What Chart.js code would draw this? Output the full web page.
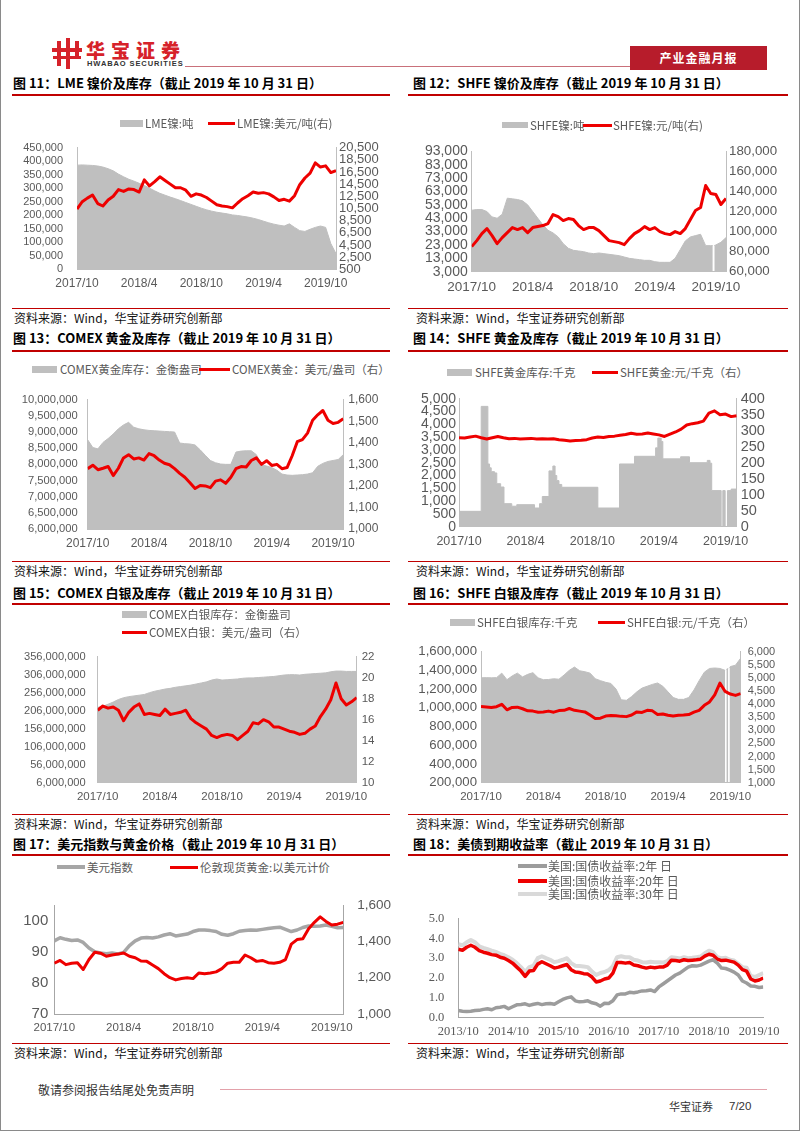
<!DOCTYPE html>
<html lang="zh-CN">
<head>
<meta charset="utf-8">
<title>产业金融月报 7/20</title>
<script src="https://cdn.jsdelivr.net/npm/chart.js@4.4.1/dist/chart.umd.min.js"></script>
<style>
  html, body { margin: 0; padding: 0; background: #fff; }
  body { position: relative; width: 802px; height: 1133px; overflow: hidden; font-family: "Noto Sans CJK SC", "Liberation Sans", sans-serif; }
  .abs { position: absolute; white-space: nowrap; }
  .frame { position: absolute; left: 0; top: -2px; width: 798px; height: 1132px; border: 1px solid #8a8a8a; border-top: none; }
  .title { font-size: 13px; font-weight: 700; line-height: 14px; color: #000; }
  .rule { height: 2px; background: #c00000; }
  .thin { height: 1px; background: #c00000; }
  .src { font-size: 12px; line-height: 14px; color: #111; }
  .leg { line-height: 14px; color: #595959; }
  .ico { position: absolute; background: #d6222a; }
  canvas { position: absolute; }
</style>
</head>
<body>
<div class="frame"></div>

<!-- header -->
<div class="ico" style="left:52px;top:48px;width:30px;height:4px"></div>
<div class="ico" style="left:57px;top:41px;width:4px;height:25px"></div>
<div class="ico" style="left:66px;top:38px;width:4px;height:31px"></div>
<div class="ico" style="left:75px;top:41px;width:4px;height:18px"></div>
<div class="ico" style="left:53px;top:56px;width:28px;height:3px"></div>
<div class="abs" style="left:86px;top:39px;font-size:19px;line-height:22px;font-weight:900;color:#d6222a;letter-spacing:6px">华宝证券</div>
<div class="abs" style="left:87px;top:60px;font-family:'Liberation Sans';font-size:7.5px;line-height:8px;font-weight:700;color:#333;letter-spacing:0.9px">HWABAO SECURITIES</div>
<div class="abs" style="left:185px;top:66px;width:445px;height:1px;background:#c9707a"></div>
<div class="abs" style="left:630px;top:46px;width:137px;height:24px;background:#b71c2b;color:#fff;font-size:12px;font-weight:700;line-height:24px;text-align:center;letter-spacing:1px">产业金融月报</div>

<!-- titles -->
<div class="abs title" style="left:13px;top:76px">图 11：LME 镍价及库存（截止 2019 年 10 月 31 日）</div>
<div class="abs title" style="left:413px;top:76px">图 12：SHFE 镍价及库存（截止 2019 年 10 月 31 日）</div>
<div class="abs rule" style="left:12px;top:94px;width:378px"></div>
<div class="abs rule" style="left:408px;top:94px;width:380px"></div>

<div class="abs title" style="left:13px;top:331px">图 13：COMEX 黄金及库存（截止 2019 年 10 月 31 日）</div>
<div class="abs title" style="left:413px;top:331px">图 14：SHFE 黄金及库存（截止 2019 年 10 月 31 日）</div>
<div class="abs rule" style="left:12px;top:350px;width:378px"></div>
<div class="abs rule" style="left:408px;top:350px;width:380px"></div>

<div class="abs title" style="left:13px;top:586px">图 15：COMEX 白银及库存（截止 2019 年 10 月 31 日）</div>
<div class="abs title" style="left:413px;top:586px">图 16：SHFE 白银及库存（截止 2019 年 10 月 31 日）</div>
<div class="abs rule" style="left:12px;top:603px;width:378px"></div>
<div class="abs rule" style="left:408px;top:603px;width:380px"></div>

<div class="abs title" style="left:13px;top:837px">图 17：美元指数与黄金价格（截止 2019 年 10 月 31 日）</div>
<div class="abs title" style="left:413px;top:837px">图 18：美债到期收益率（截止 2019 年 10 月 31 日）</div>
<div class="abs rule" style="left:12px;top:854px;width:378px"></div>
<div class="abs rule" style="left:408px;top:854px;width:380px"></div>

<!-- source rows -->
<div class="abs thin" style="left:12px;top:308px;width:378px"></div>
<div class="abs thin" style="left:408px;top:308px;width:380px"></div>
<div class="abs src" style="left:14px;top:311px">资料来源：Wind，华宝证券研究创新部</div>
<div class="abs src" style="left:416px;top:311px">资料来源：Wind，华宝证券研究创新部</div>

<div class="abs thin" style="left:12px;top:561px;width:378px"></div>
<div class="abs thin" style="left:408px;top:561px;width:380px"></div>
<div class="abs src" style="left:14px;top:564px">资料来源：Wind，华宝证券研究创新部</div>
<div class="abs src" style="left:416px;top:564px">资料来源：Wind，华宝证券研究创新部</div>

<div class="abs thin" style="left:12px;top:814px;width:378px"></div>
<div class="abs thin" style="left:408px;top:814px;width:380px"></div>
<div class="abs src" style="left:14px;top:817px">资料来源：Wind，华宝证券研究创新部</div>
<div class="abs src" style="left:416px;top:817px">资料来源：Wind，华宝证券研究创新部</div>

<div class="abs thin" style="left:12px;top:1043px;width:378px"></div>
<div class="abs thin" style="left:408px;top:1043px;width:380px"></div>
<div class="abs src" style="left:14px;top:1046px">资料来源：Wind，华宝证券研究创新部</div>
<div class="abs src" style="left:416px;top:1046px">资料来源：Wind，华宝证券研究创新部</div>

<!-- footer -->
<div class="abs" style="left:38px;top:1083px;font-size:12px;line-height:14px;color:#333">敬请参阅报告结尾处免责声明</div>
<div class="abs" style="left:220px;top:1089px;width:547px;height:1px;background:#e3a1aa"></div>
<div class="abs" style="left:669px;top:1099px;font-size:11px;line-height:14px;color:#333">华宝证券</div>
<div class="abs" style="left:729px;top:1099px;font-family:'Liberation Sans';font-size:11.5px;line-height:14px;color:#333">7/20</div>

<script>
// x positions: months after 2017/10 (two-year charts) and after 2013/10 (yield chart)
const months2y = [0,0.5,1,1.5,2,2.5,3,3.5,4,4.5,5,5.5,6,6.5,7,7.5,8,8.5,9,9.5,10,10.5,11,11.5,12,12.5,
  13,13.5,14,14.5,15,15.5,16,16.5,17,17.5,18,18.5,19,19.5,20,20.5,21,21.5,22,22.5,23,23.5,24,24.5,25];
const monthsYield = [0,1,2,3,4,5,6,7,8,9,10,11,12,13,14,15,16,17,18,19,20,21,22,23,24,25,26,27,28,29,
  30,31,32,33,34,35,36,37,38,39,40,41,42,43,44,45,46,47,48,49,50,51,52,53,54,55,56,57,58,59,
  60,61,62,63,64,65,66,67,68,69,70,71,72,73];
const tickLabels2y = ['2017/10', '2018/4', '2018/10', '2019/4', '2019/10'];
const tickLabels6y = ['2013/10', '2014/10', '2015/10', '2016/10', '2017/10', '2018/10', '2019/10'];

// 图11 LME 镍
const lmeNiStock = [385000,386000,385000,384000,382000,378000,372000,364000,352000,342000,
  333000,326000,318000,310000,300000,290000,281000,274000,267000,261000,
  254000,247000,240000,233000,226000,220000,215000,211000,208000,205000,
  201000,199000,196000,193000,189000,184000,178000,172000,167000,163000,
  160000,168000,155000,143000,140000,148000,155000,160000,155000,95000,58000];
const lmeNiPrice = [10400,11600,12200,12700,11300,10900,11900,12500,13600,13300,
  13700,13600,13200,15200,14200,14900,15700,15100,14500,13900,
  13900,13500,12500,12900,12700,12300,11700,11100,10900,10800,
  10600,11400,12100,12600,13200,13000,13100,12900,12400,11800,
  12000,11700,12600,14400,15500,16300,18000,17300,17500,16400,16700];

// 图12 SHFE 镍
const shfeNiStockX = [0,0.5,1,1.5,2,2.5,3,3.5,4,4.5,5,5.5,6,6.5,7,7.5,8,8.5,9,9.5,10,10.5,11,11.5,12,12.5,
  13,13.5,14,14.5,15,15.5,16,16.5,17,17.5,18,18.5,19,19.5,20,20.5,21,21.5,22,22.5,23,23.5,
  23.7,23.75,23.85,24,24.5,25];
const shfeNiStock = [49000,49500,49500,48000,44000,43000,46000,58000,57500,57000,
  56000,53000,48000,43000,38000,34000,32000,29000,24000,20500,
  19000,18500,18000,17000,16500,17000,16500,16000,15500,15000,
  14000,13000,12500,12000,11500,11500,10500,10000,10000,10000,
  13000,19500,26000,29000,30000,31000,22500,22500,
  22500,null,22600,23000,25000,28500];
const shfeNiPrice = [85000,91000,98000,103000,96000,88000,94000,99000,104000,102000,
  104000,99000,104000,105000,106000,108000,117000,115000,111000,113000,
  112000,106000,102000,104000,104000,101000,96000,91000,90000,89000,
  87000,93000,98000,101000,105000,102000,104000,100000,98000,97000,
  100000,98000,103000,112000,121000,124000,146000,138000,137000,127000,133000];

// 图13 COMEX 黄金
const comexGoldStock = [8760000,8520000,8480000,8680000,8800000,8940000,9100000,9220000,9300000,9150000,
  9100000,9070000,9050000,9040000,9030000,9020000,9010000,9000000,8660000,8640000,
  8630000,8600000,8450000,8280000,8120000,8050000,8010000,8000000,8000000,8380000,
  8410000,8420000,8420000,8300000,7980000,7950000,7900000,7820000,7700000,7670000,
  7660000,7670000,7680000,7700000,7740000,7940000,8030000,8090000,8120000,8150000,8300000];
const comexGoldPrice = [1280,1296,1275,1282,1290,1248,1282,1330,1345,1325,
  1330,1320,1350,1340,1320,1305,1298,1280,1258,1240,
  1215,1188,1202,1200,1192,1222,1228,1212,1240,1280,
  1290,1288,1318,1330,1300,1317,1295,1300,1280,1285,
  1340,1405,1415,1445,1505,1530,1550,1505,1490,1495,1512];

// 图14 SHFE 黄金 (库存为阶梯变化)
const shfeGoldStockX = [0,2.0,2.6,2.75,2.9,3.2,3.4,3.75,4.05,4.75,
  5.2,6.8,7.25,7.5,8.1,8.45,8.65,8.8,9.0,9.25,
  12.5,14.45,15.8,17.7,17.9,18.2,18.35,19.95,20.75,22.35,
  22.6,22.75,23.6,23.75,23.96,24.17,24.5,25];
const shfeGoldStock = [600,4700,2450,2300,2150,2100,1680,1550,900,800,
  860,730,900,1180,2180,2370,2000,1800,1650,1540,
  730,2450,2750,3080,3460,3330,2650,2730,2500,2590,
  2480,1410,0,1410,0,1410,1470,1470];
const shfeGoldPrice = [278,277,280,283,278,274,278,282,278,275,
  276,274,275,276,274,275,274,275,272,270,
  268,269,270,272,277,280,279,282,283,286,
  288,292,289,290,293,290,287,282,289,296,
  305,318,322,325,330,355,362,350,352,344,347];

// 图15 COMEX 白银
const comexSilverStock = [215000000,218000000,224000000,230000000,237000000,242000000,245000000,247000000,249000000,251000000,
  256000000,260000000,263000000,266000000,268000000,271000000,273000000,275000000,277000000,280000000,
  283000000,286000000,291000000,294000000,291000000,292000000,293000000,294000000,296000000,297000000,
  297000000,298000000,299000000,300000000,301000000,303000000,305000000,306000000,306000000,305000000,
  307000000,308000000,309000000,310000000,311000000,314000000,316000000,316000000,315000000,315000000,315000000];
const comexSilverPrice = [16.9,17.3,17.1,17.2,16.9,15.9,16.7,17.2,17.5,16.5,
  16.6,16.5,16.4,17.0,16.5,16.6,16.7,16.9,16.1,15.7,
  15.4,15.1,14.5,14.3,14.5,14.6,14.5,14.1,14.5,14.9,
  15.7,15.6,16.0,15.8,15.3,15.3,15.1,14.9,14.8,14.6,
  14.7,15.1,15.4,16.3,17.0,17.9,19.5,18.0,17.4,17.7,18.1];

// 图16 SHFE 白银
const shfeSilverStockX = [0,0.5,1,1.5,2,2.5,3,3.5,4,4.5,5,5.5,6,6.5,7,7.5,8,8.5,9,9.5,10,10.5,11,11.5,12,12.5,
  13,13.5,14,14.5,15,15.5,16,16.5,17,17.5,18,18.5,19,19.5,20,20.5,21,21.5,22,22.5,23,23.5,
  23.55,23.62,23.8,23.85,23.92,24,24.5,25];
const shfeSilverStock = [1320000,1322000,1320000,1322000,1370000,1300000,1340000,1370000,1330000,1357000,
  1375000,1320000,1300000,1302000,1310000,1305000,1350000,1400000,1435000,1395000,
  1385000,1370000,1310000,1290000,1272000,1260000,1200000,1085000,1080000,1120000,
  1170000,1210000,1230000,1250000,1265000,1230000,1170000,1110000,1090000,1090000,
  1110000,1190000,1290000,1380000,1420000,1425000,1420000,1400000,
  null,1410000,1420000,null,1430000,1440000,1455000,1530000];
const shfeSilverPrice = [3910,3890,3870,3900,3990,3780,3870,3880,3820,3740,
  3730,3690,3700,3730,3690,3750,3760,3830,3760,3730,
  3700,3580,3450,3460,3540,3560,3555,3530,3520,3580,
  3700,3680,3760,3740,3600,3620,3570,3540,3570,3580,
  3600,3690,3760,3950,4080,4350,4800,4480,4380,4330,4400];

// 图17 美元指数与黄金
const usdIndex = [93.5,94.5,94.0,93.6,93.8,93.0,91.2,90.0,89.6,89.4,
  89.6,89.3,89.8,92.0,93.5,94.4,94.6,94.4,94.8,95.4,
  95.8,95.1,95.4,95.7,96.5,97.0,97.0,96.8,96.5,95.6,
  95.3,95.8,96.6,96.8,97.0,96.9,97.2,97.5,97.7,97.9,
  97.2,96.5,97.0,97.8,98.3,98.2,98.3,98.6,98.2,97.7,97.8];
const londonGold = [1280,1295,1272,1280,1282,1245,1300,1340,1335,1318,
  1325,1330,1336,1318,1310,1292,1290,1270,1250,1222,
  1200,1188,1196,1200,1195,1226,1222,1226,1232,1250,
  1280,1285,1285,1325,1310,1290,1295,1283,1280,1285,
  1300,1385,1410,1415,1470,1505,1535,1510,1490,1495,1505];

// 图18 美债收益率
const us2y = [0.36,0.33,0.31,0.33,0.36,0.37,0.42,0.45,0.40,0.50,
  0.53,0.57,0.45,0.55,0.65,0.67,0.70,0.62,0.68,0.72,
  0.66,0.70,0.72,0.68,0.80,0.92,1.00,1.05,0.85,0.80,
  0.82,0.85,0.75,0.70,0.58,0.73,0.72,0.85,1.15,1.20,
  1.20,1.28,1.26,1.30,1.35,1.36,1.40,1.32,1.55,1.70,
  1.85,2.00,2.15,2.25,2.40,2.55,2.62,2.60,2.65,2.75,
  2.85,2.92,2.75,2.50,2.48,2.40,2.30,2.15,1.85,1.75,
  1.60,1.58,1.52,1.55];
const us20y = [3.45,3.40,3.55,3.65,3.55,3.38,3.30,3.25,3.18,3.15,
  3.05,3.00,2.88,2.75,2.55,2.35,2.08,2.35,2.38,2.70,
  2.82,2.72,2.62,2.50,2.55,2.62,2.68,2.42,2.30,2.28,
  2.22,2.20,2.05,1.80,1.85,1.95,2.00,2.25,2.78,2.78,
  2.75,2.78,2.66,2.62,2.55,2.50,2.55,2.52,2.55,2.55,
  2.65,2.90,2.88,2.85,2.92,2.88,2.90,2.92,2.95,3.10,
  3.20,3.15,2.95,2.88,2.90,2.85,2.80,2.65,2.42,2.35,
  1.95,1.85,1.90,2.00];
const us30y = [3.70,3.65,3.80,3.92,3.80,3.60,3.52,3.45,3.38,3.32,
  3.22,3.15,3.05,2.92,2.75,2.55,2.30,2.55,2.62,3.00,
  3.10,3.00,2.92,2.80,2.85,2.92,3.00,2.75,2.62,2.60,
  2.58,2.55,2.32,2.15,2.25,2.30,2.40,2.60,3.05,3.10,
  3.05,3.05,2.92,2.88,2.80,2.78,2.82,2.80,2.80,2.78,
  2.85,3.05,3.02,2.98,3.05,3.00,3.02,3.05,3.08,3.25,
  3.38,3.30,3.05,3.00,3.02,2.92,2.88,2.72,2.55,2.52,
  2.10,2.05,2.15,2.25];

const RED = '#ee0000';
const GRAY = '#bfbfbf';
const tickColor = '#595959';

function pts(xs, ys) {
  return xs.map((x, i) => ({ x: x, y: ys[i] }));
}

function fmt(v) {
  return v.toLocaleString('en-US');
}

function area(xs, ys, axis) {
  return { data: pts(xs, ys), yAxisID: axis, borderColor: GRAY, borderWidth: 1, backgroundColor: GRAY, fill: 'start', pointRadius: 0 };
}

function line(xs, ys, axis, color, width) {
  return { data: pts(xs, ys), yAxisID: axis, borderColor: color, borderWidth: width, fill: false, pointRadius: 0, borderJoinStyle: 'round' };
}

function yAxis(o, pos, width, axisColor) {
  return {
    type: 'linear', position: pos, min: o.min, max: o.max,
    grid: { display: false, drawTicks: false },
    border: { color: axisColor },
    ticks: {
      stepSize: o.step, includeBounds: false, autoSkip: false, maxTicksLimit: 30, padding: o.pad, color: tickColor,
      font: { family: o.family || 'Liberation Sans', size: o.size },
      callback: o.fmt || fmt
    },
    afterFit: s => { s.width = width; }
  };
}

function drawFigure(f, datasets) {
  const [bx, by, bw, bh] = f.box;
  const [L, T, R, B] = f.area;
  const axisColor = f.axisColor || GRAY;
  const cv = document.createElement('canvas');
  cv.width = bw;
  cv.height = bh;
  cv.style.left = bx + 'px';
  cv.style.top = by + 'px';
  document.body.appendChild(cv);

  const scales = {
    x: {
      type: 'linear', min: f.x.min, max: f.x.max,
      grid: { display: false, drawTicks: false },
      border: { color: axisColor },
      ticks: {
        stepSize: f.x.step, includeBounds: false, autoSkip: false, maxRotation: 0, padding: 7, color: tickColor,
        font: { family: f.x.family || 'Liberation Sans', size: f.x.size },
        callback: v => f.x.labels[Math.round((v - f.x.min) / f.x.step)]
      },
      afterFit: s => { s.height = by + bh - B; }
    },
    y: yAxis(f.left, 'left', L - bx, axisColor)
  };
  if (f.right) scales.y1 = yAxis(f.right, 'right', bx + bw - R, axisColor);

  new Chart(cv, {
    type: 'line',
    data: { datasets: datasets },
    options: {
      responsive: false,
      animation: false,
      devicePixelRatio: 1,
      layout: { padding: { top: T - by, right: f.right ? 0 : bx + bw - R, left: 0, bottom: 0 } },
      plugins: { legend: { display: false }, tooltip: { enabled: false } },
      elements: { line: { tension: 0 } },
      scales: scales
    }
  });
}

function legendItem(sx, cy, sw, sh, color, text, tx, size) {
  const s = document.createElement('div');
  s.className = 'abs';
  s.style.cssText = `left:${sx}px;top:${cy - sh / 2}px;width:${sw}px;height:${sh}px;background:${color}`;
  document.body.appendChild(s);
  const t = document.createElement('div');
  t.className = 'abs leg';
  t.style.cssText = `left:${tx}px;top:${cy - 7}px;font-size:${size || 11.5}px`;
  t.textContent = text;
  document.body.appendChild(t);
}

// 图11
drawFigure({
  box: [10, 127, 390, 166], area: [77, 137.7, 336, 269.3],
  x: { min: 0, max: 25, step: 6, labels: tickLabels2y, size: 12 },
  left: { min: 0, max: 450000, step: 50000, size: 11, pad: 14 },
  right: { min: 500, max: 20500, step: 2000, size: 13, pad: 3 }
}, [line(months2y, lmeNiPrice, 'y1', RED, 3), area(months2y, lmeNiStock, 'y')]);
legendItem(120, 123, 23, 7, GRAY, 'LME镍:吨', 145);
legendItem(208, 123, 27, 3, RED, 'LME镍:美元/吨(右)', 237);

// 图12
drawFigure({
  box: [410, 139, 390, 155], area: [471.7, 149.5, 726, 271.7],
  x: { min: 0, max: 25, step: 6, labels: tickLabels2y, size: 13.5 },
  left: { min: 3000, max: 93000, step: 10000, size: 14, pad: 4 },
  right: { min: 60000, max: 180000, step: 20000, size: 13.3, pad: 3 }
}, [line(months2y, shfeNiPrice, 'y1', RED, 3), area(shfeNiStockX, shfeNiStock, 'y')]);
legendItem(502, 125, 26, 6, GRAY, 'SHFE镍:吨', 530);
legendItem(583, 125, 29, 3, RED, 'SHFE镍:元/吨(右)', 613);

// 图13
drawFigure({
  box: [10, 383, 390, 170], area: [87.7, 393.3, 343.3, 529],
  x: { min: 0, max: 25, step: 6, labels: tickLabels2y, size: 12 },
  left: { min: 6000000, max: 10000000, step: 500000, size: 11.2, pad: 10 },
  right: { min: 1000, max: 1600, step: 100, size: 12, pad: 5 }
}, [line(months2y, comexGoldPrice, 'y1', RED, 3), area(months2y, comexGoldStock, 'y')]);
legendItem(32, 369, 25, 7, GRAY, 'COMEX黄金库存：金衡盎司', 60);
legendItem(199, 369, 31, 3, RED, 'COMEX黄金：美元/盎司（右）', 232);

// 图14
const shfeGoldArea = area(shfeGoldStockX, shfeGoldStock, 'y');
shfeGoldArea.stepped = 'before';
drawFigure({
  box: [410, 386, 390, 165], area: [459, 396.7, 736.7, 526.7],
  x: { min: 0, max: 25, step: 6, labels: tickLabels2y, size: 12.5 },
  left: { min: 0, max: 5000, step: 500, size: 14, pad: 3 },
  right: { min: 0, max: 400, step: 50, size: 14.5, pad: 4 }
}, [line(months2y, shfeGoldPrice, 'y1', RED, 3), shfeGoldArea]);
legendItem(447, 372, 25, 7, GRAY, 'SHFE黄金库存:千克', 475);
legendItem(592, 372, 26, 3, RED, 'SHFE黄金:元/千克（右）', 620);

// 图15
drawFigure({
  box: [10, 638, 390, 168], area: [97.7, 648.3, 356.7, 782.7],
  x: { min: 0, max: 25, step: 6, labels: tickLabels2y, size: 11.5 },
  left: { min: 6000000, max: 356000000, step: 50000000, size: 11.1, pad: 12 },
  right: { min: 10, max: 22, step: 2, size: 11.5, pad: 5 }
}, [line(months2y, comexSilverPrice, 'y1', RED, 3), area(months2y, comexSilverStock, 'y')]);
legendItem(122, 614, 25, 7, GRAY, 'COMEX白银库存：金衡盎司', 149);
legendItem(122, 632, 25, 3, RED, 'COMEX白银：美元/盎司（右）', 149);

// 图16
drawFigure({
  box: [410, 638, 390, 168], area: [481, 648.3, 740.7, 782.7],
  x: { min: 0, max: 25, step: 6, labels: tickLabels2y, size: 11.5 },
  left: { min: 200000, max: 1600000, step: 200000, size: 13.2, pad: 4 },
  right: { min: 1000, max: 6000, step: 500, size: 11, pad: 7 }
}, [line(months2y, shfeSilverPrice, 'y1', RED, 3), area(shfeSilverStockX, shfeSilverStock, 'y')]);
legendItem(450, 622, 25, 7, GRAY, 'SHFE白银库存:千克', 477);
legendItem(598, 622, 27, 3, RED, 'SHFE白银:元/千克（右）', 627);

// 图17
drawFigure({
  box: [10, 883, 390, 160], area: [54.3, 893.3, 343.3, 1014], axisColor: '#a6a6a6',
  x: { min: 0, max: 25, step: 6, labels: tickLabels2y, size: 11.5 },
  left: { min: 70, max: 105, step: 10, size: 15, pad: 6 },
  right: { min: 1000, max: 1600, step: 200, size: 13.5, pad: 14 }
}, [line(months2y, londonGold, 'y1', RED, 3), line(months2y, usdIndex, 'y', '#a6a6a6', 3.5)]);
legendItem(57, 867, 28, 4, '#a6a6a6', '美元指数', 87);
legendItem(170, 867, 28, 3, RED, '伦敦现货黄金:以美元计价', 200);

// 图18
drawFigure({
  box: [410, 897, 390, 146], area: [458.3, 906.7, 763.3, 1017.7], axisColor: '#a6a6a6',
  x: { min: 0, max: 73, step: 12, labels: tickLabels6y, size: 12.5, family: 'Liberation Serif' },
  left: { min: 0, max: 5, step: 1, size: 12.5, pad: 14, family: 'Liberation Serif', fmt: v => v.toFixed(1) }
}, [
  line(monthsYield, us2y, 'y', '#9c9c9c', 3.5),
  line(monthsYield, us20y, 'y', RED, 3.5),
  line(monthsYield, us30y, 'y', '#d9d9d9', 4)
]);
legendItem(518, 866, 29, 4, '#9c9c9c', '美国:国债收益率:2年 日', 548, 12);
legendItem(518, 880.5, 29, 4, RED, '美国:国债收益率:20年 日', 548, 12);
legendItem(518, 894, 29, 4, '#d9d9d9', '美国:国债收益率:30年 日', 548, 12);
</script>
</body>
</html>
